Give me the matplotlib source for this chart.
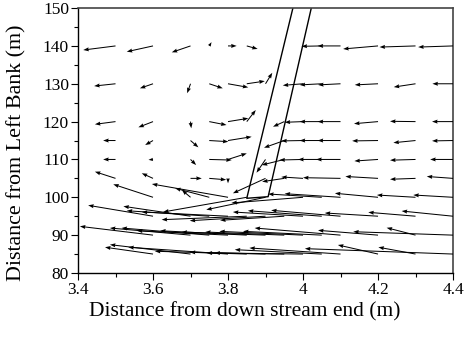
import matplotlib

matplotlib.use("Agg")
import matplotlib.pyplot as plt
from matplotlib.ticker import MultipleLocator

plt.rcParams["font.family"] = ["Liberation Serif", "DejaVu Serif"]

# measurement rows (distance from left bank)
ROWS = [140, 130, 120, 115, 110, 105, 100, 95, 90, 85]

# tail x positions and vector components per row
X140 = [3.5, 3.6, 3.7, 3.75, 3.8, 3.85, 4.05, 4.1, 4.2, 4.3, 4.4]
U140 = [-0.086, -0.070, -0.050, 0.006, 0.023, 0.029, -0.054, -0.061, -0.093, -0.096, -0.093]
V140 = [-1.08, -1.53, -1.69, 1.0, 0.0, -0.8, -0.1, 0.0, -0.8, -0.3, -0.3]

X130 = [3.5, 3.6, 3.7, 3.75, 3.8, 3.85, 3.9, 4.0, 4.05, 4.1, 4.2, 4.3, 4.4]
U130 = [-0.057, -0.035, -0.009, 0.036, 0.054, 0.048, 0.018, -0.054, -0.059, -0.060, -0.062, -0.058, -0.055]
V130 = [-0.6, -1.2, -2.5, -1.2, -0.95, 0.7, 2.9, -0.42, -0.3, -0.3, -0.3, -0.87, 0.0]

X120 = [3.5, 3.6, 3.7, 3.75, 3.8, 3.85, 3.95, 4.0, 4.05, 4.1, 4.2, 4.3, 4.4]
U120 = [-0.055, -0.039, 0.002, 0.046, 0.054, 0.024, -0.030, -0.049, -0.059, -0.061, -0.064, -0.068, -0.056]
V120 = [-0.71, -1.5, -1.77, -0.9, 0.87, 3.06, -1.35, -0.18, 0.0, 0.0, -0.55, 0.08, 0.0]

X115 = [3.5, 3.6, 3.7, 3.75, 3.8, 3.95, 4.0, 4.05, 4.1, 4.2, 4.3, 4.4]
U115 = [-0.033, -0.021, 0.021, 0.051, 0.063, -0.054, -0.058, -0.059, -0.061, -0.069, -0.059, -0.056]
V115 = [0.0, -1.19, -1.8, -0.3, 1.0, -1.9, -0.1, 0.0, 0.0, -0.1, -0.58, -0.1]

X110 = [3.5, 3.6, 3.7, 3.75, 3.8, 3.9, 3.95, 4.0, 4.05, 4.1, 4.2, 4.3, 4.4]
U110 = [-0.033, -0.012, 0.015, 0.060, 0.050, -0.024, -0.060, -0.063, -0.063, -0.065, -0.063, -0.068, -0.061]
V110 = [0.0, -0.1, -1.48, -0.16, 1.6, -3.5, -1.48, -0.15, 0.0, 0.0, -0.42, -0.2, 0.0]

X105 = [3.5, 3.6, 3.7, 3.75, 3.8, 3.9, 3.95, 4.0, 4.1, 4.2, 4.3, 4.4]
U105 = [-0.055, -0.030, 0.030, 0.045, 0.0, -0.087, -0.059, -0.058, -0.100, -0.087, -0.068, -0.070]
V105 = [1.77, 1.35, 0.0, -0.37, -1.3, -3.94, -0.87, 0.37, 0.18, 0.5, -0.24, 0.5]

X100 = [3.6, 3.7, 3.75, 3.8, 3.85, 3.9, 4.0, 4.05, 4.1, 4.2, 4.3, 4.4]
U100 = [-0.106, -0.023, -0.091, -0.203, -0.223, -0.158, -0.191, -0.143, -0.149, -0.115, -0.103, -0.106]
V100 = [3.43, 1.93, 2.38, 3.51, -3.88, -3.28, -1.5, 0.87, 0.95, 1.06, 0.6, 0.6]

X95 = [3.6, 3.7, 3.75, 3.8, 3.85, 3.9, 3.95, 4.0, 4.05, 4.1, 4.2, 4.3, 4.4]
U95 = [-0.173, -0.179, -0.220, -0.230, -0.227, -0.202, -0.171, -0.187, -0.197, -0.185, -0.142, -0.126, -0.137]
V95 = [2.88, 2.61, 1.45, 1.11, -0.92, -1.19, -1.08, 1.11, 1.45, 1.56, 0.85, 1.03, 1.37]

X90 = [3.6, 3.7, 3.75, 3.8, 3.85, 3.9, 3.95, 4.0, 4.05, 4.1, 4.2, 4.3, 4.4]
U90 = [-0.195, -0.215, -0.234, -0.243, -0.231, -0.224, -0.211, -0.223, -0.210, -0.229, -0.160, -0.077, -0.266]
V90 = [2.32, 1.88, 1.88, 1.16, 1.16, 0.82, 0.82, 1.0, 1.0, 1.88, 1.27, 1.95, 0.9]

X85 = [3.6, 3.7, 3.8, 3.85, 3.9, 3.95, 4.0, 4.05, 4.1, 4.2, 4.3, 4.4]
U85 = [-0.128, -0.215, -0.266, -0.245, -0.202, -0.207, -0.236, -0.232, -0.243, -0.107, -0.099, -0.395]
V85 = [1.8, 2.48, 1.8, 0.74, 0.48, 0.29, 0.29, 1.16, 1.61, 2.4, 1.8, 1.43]

# outline of the inclined structure
STRUCT_X = [3.973, 3.850, 3.907, 4.022]
STRUCT_Y = [150.0, 99.74, 100.16, 150.0]

X_TICKS = [3.4, 3.6, 3.8, 4.0, 4.2, 4.4]
X_TICK_LABELS = ["3.4", "3.6", "3.8", "4", "4.2", "4.4"]


def main():
    row_data = [
        (X140, U140, V140), (X130, U130, V130), (X120, U120, V120),
        (X115, U115, V115), (X110, U110, V110), (X105, U105, V105),
        (X100, U100, V100), (X95, U95, V95), (X90, U90, V90), (X85, U85, V85),
    ]
    xs, ys, us, vs = [], [], [], []
    for y, (x, u, v) in zip(ROWS, row_data):
        xs.extend(x)
        ys.extend([y] * len(x))
        us.extend(u)
        vs.extend(v)

    fig = plt.figure(figsize=(4.68, 3.37), dpi=100)
    ax = fig.add_axes([0.1667, 0.19, 0.8013, 0.786])

    ax.quiver(
        xs, ys, us, vs,
        angles="xy", scale_units="xy", scale=1,
        width=0.0027, headwidth=4, headlength=5.5, headaxislength=5,
        minshaft=1, minlength=0.1, color="black", zorder=3,
    )
    ax.plot(STRUCT_X, STRUCT_Y, color="black", linewidth=1.0, zorder=2)

    ax.set_xlim(3.4, 4.4)
    ax.set_ylim(80, 150)
    ax.set_xticks(X_TICKS)
    ax.set_xticklabels(X_TICK_LABELS)
    ax.xaxis.set_minor_locator(MultipleLocator(0.1))
    ax.yaxis.set_major_locator(MultipleLocator(10))
    ax.yaxis.set_minor_locator(MultipleLocator(5))
    ax.tick_params(which="major", direction="out", length=5, width=0.8, labelsize=12.5, pad=1.5)
    ax.tick_params(which="minor", direction="out", length=3, width=0.8)

    for side in ["left", "bottom"]:
        ax.spines[side].set_linewidth(1.0)
        ax.spines[side].set_color("black")
    for side in ["top", "right"]:
        ax.spines[side].set_linewidth(1.2)
        ax.spines[side].set_color("#444444")

    ax.set_xlabel("Distance from down stream end (m)", fontsize=15.5)
    ax.set_ylabel("Distance from Left Bank (m)", fontsize=15.8)
    ax.xaxis.set_label_coords(0.445, -0.11)
    ax.yaxis.set_label_coords(-0.137, 0.452)

    fig.savefig("out.png", dpi=100)
    plt.close(fig)


if __name__ == "__main__":
    main()
